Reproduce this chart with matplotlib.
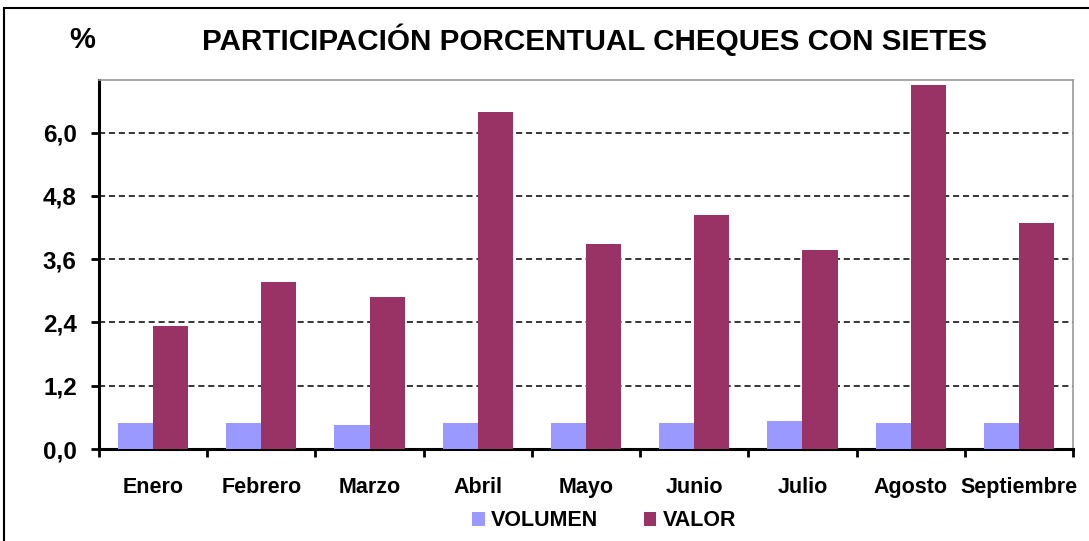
"""Participación porcentual cheques con sietes - grouped bars."""

import matplotlib
matplotlib.use("Agg")
import matplotlib.pyplot as plt
from matplotlib.patches import Rectangle
from matplotlib.ticker import FixedLocator, FuncFormatter
import numpy as np

plt.rcParams["font.family"] = ["Liberation Sans", "DejaVu Sans"]
plt.rcParams["font.weight"] = "bold"

meses = ["Enero", "Febrero", "Marzo", "Abril", "Mayo", "Junio", "Julio", "Agosto", "Septiembre"]
volumen = [0.49, 0.49, 0.45, 0.49, 0.49, 0.49, 0.53, 0.49, 0.49]
valor = [2.34, 3.17, 2.89, 6.40, 3.89, 4.44, 3.78, 6.91, 4.29]
y_ticks = [0.0, 1.2, 2.4, 3.6, 4.8, 6.0]

W, H = 1089, 541
fig = plt.figure(figsize=(W / 100, H / 100), dpi=100)
ax = fig.add_axes([99 / W, 1 - 449 / H, (1073 - 99) / W, (449 - 80) / H])

x = np.arange(len(meses))
bw = 0.324
ax.bar(x - bw / 2, volumen, bw, color="#9999FF", label="VOLUMEN", zorder=3)
ax.bar(x + bw / 2, valor, bw, color="#993366", label="VALOR", zorder=3)

ax.set_xlim(-0.5, len(meses) - 0.5)
ax.set_ylim(0, 7.0)
ax.yaxis.set_major_locator(FixedLocator(y_ticks))
ax.yaxis.set_major_formatter(FuncFormatter(lambda v, _: f"{v:.1f}".replace(".", ",")))
for v in y_ticks[1:]:
    ax.axhline(v, color="black", lw=1.1, ls=(0, (4, 2.5)), zorder=1)

ax.set_xticks(x)
ax.set_xticklabels(meses, fontsize=15.5, fontweight="bold")
ax.xaxis.set_minor_locator(FixedLocator(np.arange(-0.5, len(meses), 1.0)))
ax.tick_params(axis="x", which="major", length=0, pad=20)
ax.tick_params(axis="x", which="minor", length=6, width=2, direction="out")
ax.tick_params(axis="y", length=6, width=2, direction="out", labelsize=17.5, pad=10)
for lbl in ax.get_yticklabels():
    lbl.set_fontweight("bold")

ax.spines["left"].set_linewidth(2.2)
ax.spines["bottom"].set_linewidth(2.2)
for s in ("top", "right"):
    ax.spines[s].set_color("#999999")
    ax.spines[s].set_linewidth(1.2)

fig.text(595 / W, 1 - 40 / H, "PARTICIPACIÓN PORCENTUAL CHEQUES CON SIETES",
         ha="center", va="center", fontsize=21.3, fontweight="bold")
fig.text(82 / W, 1 - 40 / H, "%", ha="center", va="center", fontsize=21, fontweight="bold")

fig.legend(loc="center", bbox_to_anchor=(604 / W, 1 - 521 / H), ncol=2, frameon=False,
           prop={"size": 15.5, "weight": "bold"}, handlelength=0.6, handleheight=0.6,
           handletextpad=0.3, columnspacing=2.1)

fig.patches.append(Rectangle((4 / W, -0.1), 1.2, 1.1 - 8 / H, transform=fig.transFigure,
                             fill=False, edgecolor="black", lw=1.5))

fig.savefig("out.png", dpi=100)
